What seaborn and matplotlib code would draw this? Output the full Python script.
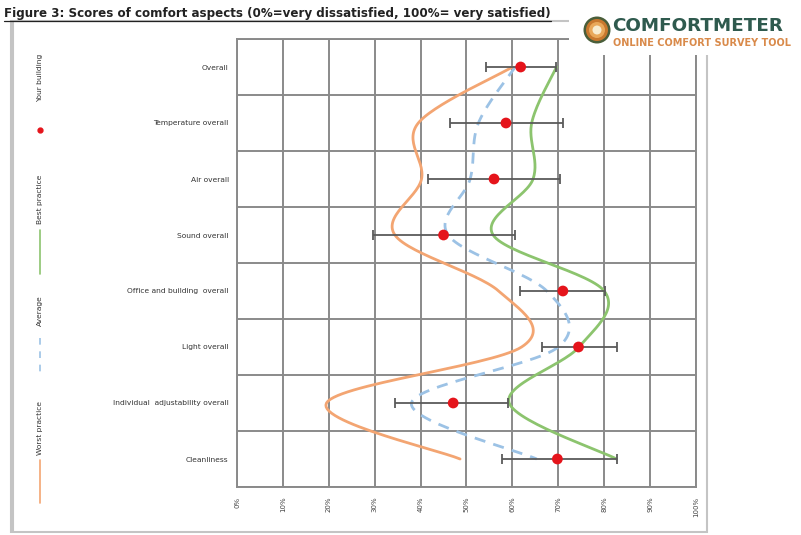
import numpy as np
import pandas as pd
import matplotlib
matplotlib.use("Agg")
import matplotlib.pyplot as plt
import seaborn as sns
from matplotlib.patches import Rectangle, Circle
from matplotlib.lines import Line2D

# ---------------- data ----------------
categories = ["Overall", "Temperature overall", "Air overall", "Sound overall",
              "Office and building  overall", "Light overall",
              "Individual  adjustability overall", "Cleanliness"]
your_building = [61.8, 58.6, 56.0, 45.0, 71.0, 74.4, 47.1, 69.8]
err_low = [54.3, 46.5, 41.7, 29.6, 61.7, 66.4, 34.4, 57.7]
err_high = [69.6, 71.0, 70.4, 60.6, 80.2, 82.7, 59.1, 82.7]
best_practice = [69.6, 64.2, 64.5, 55.8, 80.0, 74.5, 59.3, 82.7]
average = [60.6, 52.6, 50.8, 46.0, 67.5, 70.0, 38.0, 65.3]
worst_practice = [60.0, 39.5, 40.2, 34.4, 57.0, 62.0, 19.5, 48.6]
x_ticks = [0, 10, 20, 30, 40, 50, 60, 70, 80, 90, 100]
x_tick_labels = ["0%", "10%", "20%", "30%", "40%", "50%", "60%", "70%", "80%", "90%", "100%"]
legend_labels = ["Your building", "Best practice", "Average", "Worst practice"]
title = "Figure 3: Scores of comfort aspects (0%=very dissatisfied, 100%= very satisfied)"


def catmull_rom(xs, ys, n=30):
    pts = np.column_stack([xs, ys]).astype(float)
    p = np.vstack([pts[0], pts, pts[-1]])
    out = []
    for i in range(1, len(p) - 2):
        p0, p1, p2, p3 = p[i - 1], p[i], p[i + 1], p[i + 2]
        t = np.linspace(0, 1, n, endpoint=(i == len(p) - 3))[:, None]
        seg = 0.5 * ((2 * p1) + (-p0 + p2) * t + (2 * p0 - 5 * p1 + 4 * p2 - p3) * t ** 2
                     + (-p0 + 3 * p1 - 3 * p2 + p3) * t ** 3)
        out.append(seg)
    out = np.vstack(out)
    return out[:, 0], out[:, 1]


sns.set_theme(style="white")
plt.rcParams['font.family'] = ['DejaVu Sans']

W, H = 801, 535
fig = plt.figure(figsize=(W / 100, H / 100), dpi=100)
ax = fig.add_axes([237 / W, 1 - 487 / H, (696 - 237) / W, (487 - 39) / H])

pos = np.arange(len(categories))
grid_c = "#8a8a8a"

# smoothed series
series = [("Best practice", best_practice, "#8cc46e", "-"),
          ("Average", average, "#9cc2e5", (0, (4, 3))),
          ("Worst practice", worst_practice, "#f3a572", "-")]
for name, vals, col, ls in series:
    sx, sy = catmull_rom(vals, pos)
    df = pd.DataFrame({"x": sx, "y": sy})
    sns.lineplot(data=df, x="x", y="y", sort=False, estimator=None, ax=ax,
                 color=col, linewidth=2.0, zorder=3)
    ax.lines[-1].set_linestyle(ls)

# error bars
xerr = np.array([np.array(your_building) - np.array(err_low),
                 np.array(err_high) - np.array(your_building)])
ax.errorbar(your_building, pos, xerr=xerr, fmt="none", ecolor="#5a5a5a",
            elinewidth=1.3, capsize=3.5, capthick=1.3, zorder=4)

# your building
dfb = pd.DataFrame({"x": your_building, "y": pos})
sns.scatterplot(data=dfb, x="x", y="y", ax=ax, color="#e5141b", s=60,
                edgecolor="none", zorder=5)

ax.set_xlim(0, 100)
ax.set_ylim(len(categories) - 0.5, -0.5)
ax.set_xticks(x_ticks)
ax.set_xticklabels(x_tick_labels, rotation=90, fontsize=5, color="#444444")
ax.set_yticks(pos)
ax.set_yticklabels(categories, fontsize=5.4, color="#333333")
ax.set_yticks(np.arange(len(categories) + 1) - 0.5, minor=True)
ax.tick_params(axis="y", which="major", length=0, pad=6)
ax.tick_params(axis="y", which="minor", length=3, color=grid_c, width=1)
ax.tick_params(axis="x", which="major", length=3, color=grid_c, width=1, pad=4)
ax.set_xlabel("")
ax.set_ylabel("")
for v in x_ticks:
    ax.axvline(v, color=grid_c, lw=1.4, zorder=1)
for v in np.arange(len(categories) + 1) - 0.5:
    ax.axhline(v, color=grid_c, lw=1.4, zorder=1)
for s in ax.spines.values():
    s.set_color(grid_c)
    s.set_linewidth(1.4)

# outer frame
fig.patches.append(Rectangle((11 / W, 1 - 532 / H), (707 - 11) / W, (532 - 21) / H,
                             transform=fig.transFigure, fill=False,
                             edgecolor="#c4c4c4", lw=1.5))
fig.patches.append(Rectangle((13 / W, 1 - 532 / H), 0, (532 - 21) / H,
                             transform=fig.transFigure, fill=False,
                             edgecolor="#c4c4c4", lw=1.5))

# legend (vertical)
lx = 40 / W
txt_kw = dict(rotation=90, fontsize=5.4, color="#333333", ha="center", va="center")
fig.text(lx, 1 - 78 / H, legend_labels[0], **txt_kw)
fig.add_artist(Line2D([lx], [1 - 130 / H], marker="o", color="#e5141b", ms=3.5,
                      transform=fig.transFigure, lw=0))
fig.text(lx, 1 - 199 / H, legend_labels[1], **txt_kw)
fig.add_artist(Line2D([lx, lx], [1 - 230 / H, 1 - 274 / H], color="#8cc46e", lw=1.2,
                      transform=fig.transFigure))
fig.text(lx, 1 - 311 / H, legend_labels[2], **txt_kw)
fig.add_artist(Line2D([lx, lx], [1 - 338 / H, 1 - 376 / H], color="#9cc2e5", lw=1.2,
                      ls=(0, (4, 4)), transform=fig.transFigure))
fig.text(lx, 1 - 428 / H, legend_labels[3], **txt_kw)
fig.add_artist(Line2D([lx, lx], [1 - 460 / H, 1 - 503 / H], color="#f3a572", lw=1.2,
                      transform=fig.transFigure))

# title
t = fig.text(4 / W, 1 - 13 / H, title, fontsize=8.6, fontweight="bold",
             color="#222222", ha="left", va="center")
fig.canvas.draw()
bb = t.get_window_extent()
fig.add_artist(Line2D([bb.x0 / W, bb.x1 / W], [(bb.y0 - 1) / H, (bb.y0 - 1) / H],
                      color="#222222", lw=0.9, transform=fig.transFigure))

# logo
fig.patches.append(Rectangle((569 / W, 1 - 55 / H), (W - 569) / W, 55 / H,
                             transform=fig.transFigure, facecolor="white",
                             edgecolor="none", zorder=10))
cx, cy = 597 / 100, (H - 30) / 100
for r, c in [(13.5, "#4a5e3a"), (11, "#c8782e"), (8, "#e9a85a"), (4.5, "#f8ecd0")]:
    fig.patches.append(Circle((cx, cy), r / 100, transform=fig.dpi_scale_trans,
                              facecolor=c, edgecolor="none", zorder=11))
fig.text(612 / W, 1 - 26 / H, "COMFORTMETER", fontsize=13.2, fontweight="bold",
         color="#2f5a4e", ha="left", va="center", zorder=12)
fig.text(613 / W, 1 - 43 / H, "ONLINE COMFORT SURVEY TOOL", fontsize=7,
         fontweight="bold", color="#d98a4a", ha="left", va="center", zorder=12)

fig.savefig("out.png", dpi=100, facecolor="white")
